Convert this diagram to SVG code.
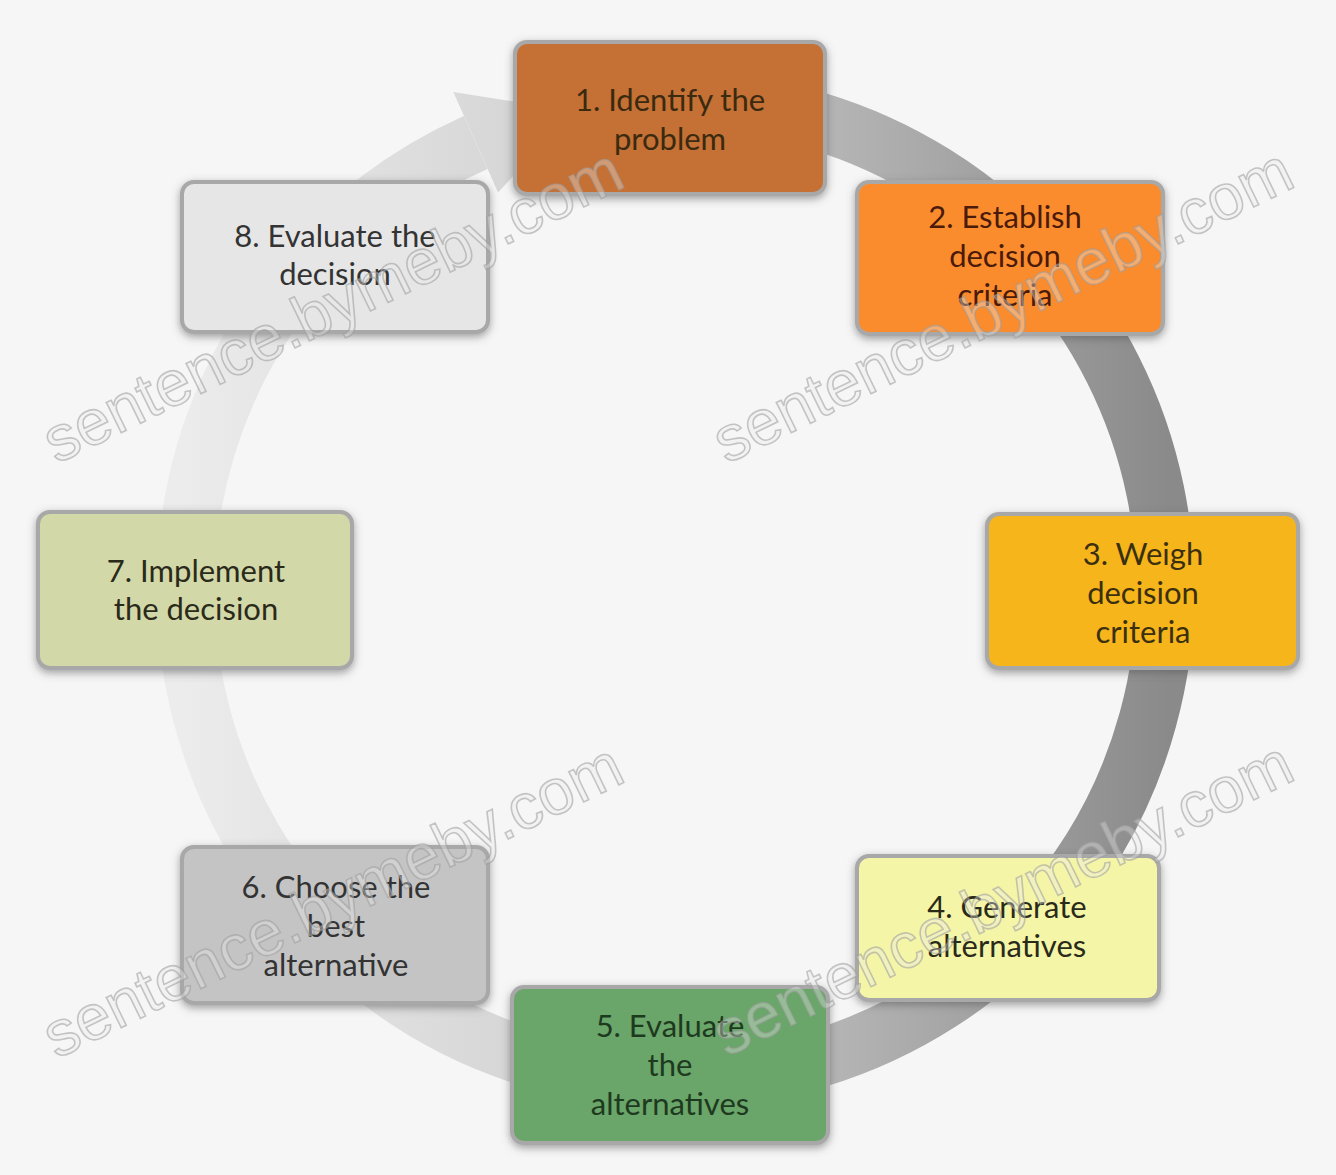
<svg xmlns="http://www.w3.org/2000/svg" width="1336" height="1175" viewBox="0 0 1336 1175">
<style>
.box{stroke:#a8a8a8;stroke-width:4;filter:url(#sh)}
.t{font-family:Lato,"Liberation Sans",sans-serif;font-size:31px;text-anchor:middle}
.wm{font-family:"Liberation Sans",Arial,sans-serif;font-size:64px;fill:#ececec;fill-opacity:0.35;stroke:#9a9a9a;stroke-opacity:0.55;stroke-width:1.6}
</style>
<defs>
<linearGradient id="ringg" gradientUnits="userSpaceOnUse" x1="180" y1="0" x2="1170" y2="0">
<stop offset="0" stop-color="#ececec"/>
<stop offset="0.45" stop-color="#cfcfcf"/>
<stop offset="1" stop-color="#8a8a8a"/>
</linearGradient>
<filter id="sh" x="-10%" y="-15%" width="120%" height="130%">
<feDropShadow dx="0" dy="3" stdDeviation="4" flood-color="#555" flood-opacity="0.55"/>
</filter>
</defs>
<rect width="1336" height="1175" fill="#f6f6f6"/>
<g id="connectors">
<path d="M589.9,107.4 A490,490 0 1 1 475.7,142.4" fill="none" stroke="url(#ringg)" stroke-width="58"/>
<polygon points="453.3,92.1 573.1,110.7 498.1,192.6" fill="url(#ringg)"/>
</g>
<g id="node1"><rect class="box" x="515" y="42" width="310" height="152" rx="12" fill="#c56f35"/>
<text class="t" fill="#3a2a10" x="670" y="111">1. Identify the</text><text class="t" fill="#3a2a10" x="670" y="150">problem</text></g>
<g id="node2"><rect class="box" x="857" y="182" width="306" height="152" rx="12" fill="#fb8c2e"/>
<text class="t" fill="#4a1a0a" x="1005" y="228">2. Establish</text><text class="t" fill="#4a1a0a" x="1005" y="267">decision</text><text class="t" fill="#4a1a0a" x="1005" y="306">criteria</text></g>
<g id="node3"><rect class="box" x="987" y="514" width="311" height="154" rx="12" fill="#f7b51c"/>
<text class="t" fill="#3a3010" x="1143" y="565">3. Weigh</text><text class="t" fill="#3a3010" x="1143" y="604">decision</text><text class="t" fill="#3a3010" x="1143" y="643">criteria</text></g>
<g id="node4"><rect class="box" x="857" y="856" width="302" height="144" rx="12" fill="#f5f5a8"/>
<text class="t" fill="#2a2a1a" x="1007" y="918">4. Generate</text><text class="t" fill="#2a2a1a" x="1007" y="957">alternatives</text></g>
<g id="node5"><rect class="box" x="512" y="987" width="316" height="156" rx="12" fill="#6aa56a"/>
<text class="t" fill="#1e3a1e" x="670" y="1037">5. Evaluate</text><text class="t" fill="#1e3a1e" x="670" y="1076">the</text><text class="t" fill="#1e3a1e" x="670" y="1115">alternatives</text></g>
<g id="node6"><rect class="box" x="182" y="847" width="306" height="156" rx="12" fill="#c4c4c4"/>
<text class="t" fill="#333333" x="336" y="898">6. Choose the</text><text class="t" fill="#333333" x="336" y="937">best</text><text class="t" fill="#333333" x="336" y="976">alternative</text></g>
<g id="node7"><rect class="box" x="38" y="512" width="314" height="156" rx="12" fill="#d3d8a8"/>
<text class="t" fill="#2a2a1a" x="196" y="582">7. Implement</text><text class="t" fill="#2a2a1a" x="196" y="620">the decision</text></g>
<g id="node8"><rect class="box" x="182" y="182" width="306" height="150" rx="12" fill="#e6e6e6"/>
<text class="t" fill="#333333" x="335" y="247">8. Evaluate the</text><text class="t" fill="#333333" x="335" y="285">decision</text></g>
<g id="watermarks">
<text class="wm" transform="translate(342,325) rotate(-26)" text-anchor="middle">sentence.bymeby.com</text>
<text class="wm" transform="translate(1012,325) rotate(-26)" text-anchor="middle">sentence.bymeby.com</text>
<text class="wm" transform="translate(342,920) rotate(-26)" text-anchor="middle">sentence.bymeby.com</text>
<text class="wm" transform="translate(1012,918) rotate(-26)" text-anchor="middle">sentence.bymeby.com</text>
</g>
</svg>
